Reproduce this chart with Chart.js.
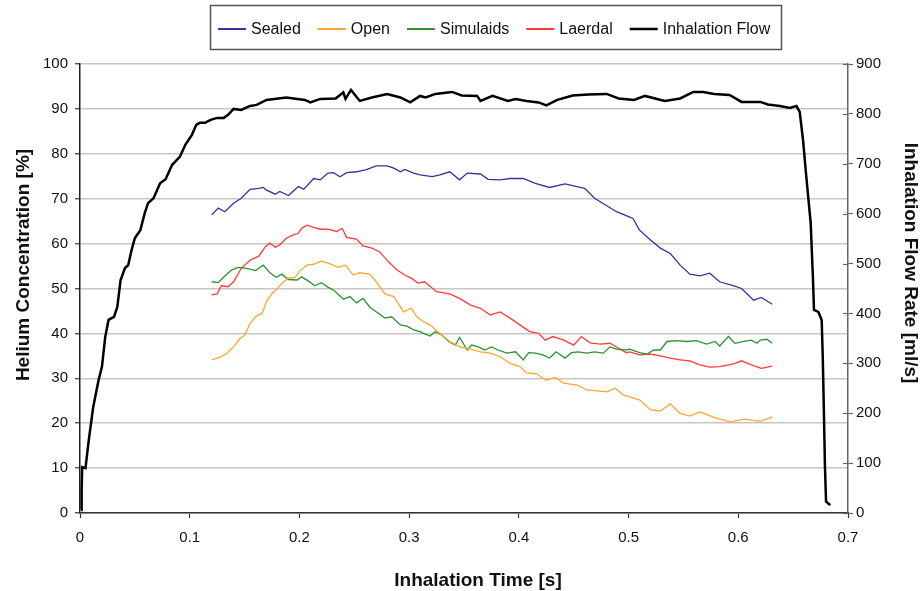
<!DOCTYPE html>
<html>
<head>
<meta charset="utf-8">
<title>Helium concentration and inhalation flow</title>
<script src="https://cdn.jsdelivr.net/npm/chart.js@4.4.1/dist/chart.umd.min.js"></script>
<style>
  html, body { margin: 0; padding: 0; background: #fff; }
  #chart { display: block; }
</style>
</head>
<body>
<canvas id="chart" width="922" height="591"></canvas>
<script>
// tick values for the three axes
const timeTicks = [0, 0.1, 0.2, 0.3, 0.4, 0.5, 0.6, 0.7];
const concentrationTicks = [0, 10, 20, 30, 40, 50, 60, 70, 80, 90, 100];
const flowTicks = [0, 100, 200, 300, 400, 500, 600, 700, 800, 900];

// [time s, helium %]
const sealed = [
  [0.120, 66.4], [0.126, 67.9], [0.132, 67.1], [0.140, 69.0], [0.147, 70.1], [0.155, 72.1],
  [0.163, 72.3], [0.167, 72.5], [0.170, 71.9], [0.178, 71.0], [0.182, 71.6], [0.190, 70.7],
  [0.194, 71.6], [0.199, 72.7], [0.204, 72.1], [0.213, 74.5], [0.219, 74.2], [0.226, 75.7],
  [0.231, 75.8], [0.237, 74.9], [0.243, 75.8], [0.252, 76.0], [0.261, 76.5], [0.270, 77.3],
  [0.280, 77.3], [0.286, 76.8], [0.292, 76.0], [0.296, 76.5], [0.304, 75.7], [0.310, 75.3],
  [0.321, 74.9], [0.328, 75.3], [0.337, 76.0], [0.346, 74.2], [0.353, 75.7], [0.365, 75.5],
  [0.372, 74.3], [0.383, 74.2], [0.392, 74.5], [0.404, 74.5], [0.415, 73.4], [0.428, 72.5],
  [0.442, 73.3], [0.453, 72.7], [0.460, 72.3], [0.469, 70.1], [0.479, 68.6], [0.489, 67.1],
  [0.500, 66.0], [0.504, 65.6], [0.510, 63.0], [0.520, 60.8], [0.529, 59.0], [0.538, 57.8],
  [0.547, 55.2], [0.556, 53.2], [0.565, 52.8], [0.574, 53.4], [0.583, 51.5], [0.596, 50.6],
  [0.603, 50.0], [0.614, 47.4], [0.621, 48.0], [0.631, 46.5],
];

const open = [
  [0.120, 34.1], [0.128, 34.7], [0.134, 35.6], [0.140, 37.0], [0.146, 38.9], [0.150, 39.6],
  [0.155, 42.2], [0.160, 43.7], [0.166, 44.5], [0.170, 47.1], [0.175, 48.9], [0.179, 49.7],
  [0.184, 51.2], [0.190, 52.3], [0.196, 52.5], [0.201, 54.1], [0.207, 55.2], [0.213, 55.4],
  [0.220, 56.1], [0.228, 55.5], [0.235, 54.7], [0.242, 55.2], [0.249, 53.0], [0.255, 53.5],
  [0.264, 53.2], [0.270, 51.5], [0.278, 48.8], [0.286, 48.2], [0.295, 44.8], [0.302, 45.6],
  [0.307, 43.7], [0.313, 42.6], [0.319, 41.9], [0.328, 40.0], [0.337, 38.2], [0.346, 37.0],
  [0.356, 36.5], [0.365, 35.9], [0.374, 35.6], [0.383, 34.8], [0.392, 33.3], [0.401, 32.6],
  [0.407, 31.2], [0.416, 31.0], [0.425, 29.6], [0.433, 30.2], [0.441, 28.9], [0.453, 28.5],
  [0.462, 27.4], [0.471, 27.2], [0.480, 27.0], [0.488, 27.8], [0.495, 26.3], [0.510, 25.2],
  [0.520, 23.0], [0.529, 22.7], [0.538, 24.3], [0.547, 22.2], [0.556, 21.6], [0.565, 22.5],
  [0.579, 21.2], [0.593, 20.3], [0.606, 20.9], [0.620, 20.4], [0.631, 21.4],
];

const simulaids = [
  [0.120, 51.5], [0.126, 51.3], [0.132, 52.8], [0.138, 54.1], [0.144, 54.7], [0.152, 54.5],
  [0.160, 54.0], [0.167, 55.2], [0.173, 53.5], [0.179, 52.5], [0.184, 53.2], [0.190, 52.0],
  [0.198, 51.9], [0.202, 52.6], [0.208, 51.7], [0.214, 50.6], [0.220, 51.3], [0.226, 50.3],
  [0.232, 49.5], [0.240, 47.6], [0.246, 48.2], [0.252, 46.8], [0.258, 47.8], [0.264, 45.9],
  [0.270, 44.8], [0.278, 43.4], [0.284, 43.7], [0.292, 41.9], [0.298, 41.6], [0.304, 40.8],
  [0.310, 40.4], [0.313, 40.0], [0.319, 39.4], [0.324, 40.4], [0.330, 39.6], [0.336, 38.2],
  [0.342, 37.4], [0.346, 39.1], [0.353, 36.3], [0.357, 37.4], [0.363, 37.0], [0.369, 36.3],
  [0.375, 37.0], [0.381, 36.3], [0.389, 35.6], [0.397, 35.9], [0.404, 34.1], [0.409, 35.7],
  [0.415, 35.6], [0.422, 35.2], [0.428, 34.5], [0.434, 35.9], [0.442, 34.5], [0.448, 35.7],
  [0.454, 35.9], [0.462, 35.6], [0.469, 35.9], [0.477, 35.6], [0.483, 37.0], [0.489, 36.5],
  [0.497, 36.3], [0.501, 36.5], [0.510, 35.7], [0.517, 35.4], [0.523, 36.3], [0.529, 36.3],
  [0.535, 38.2], [0.544, 38.4], [0.553, 38.2], [0.562, 38.4], [0.571, 37.6], [0.579, 38.2],
  [0.583, 37.2], [0.591, 39.3], [0.597, 37.8], [0.605, 38.2], [0.612, 38.5], [0.617, 37.8],
  [0.620, 38.5], [0.626, 38.7], [0.631, 37.8],
];

const laerdal = [
  [0.120, 48.6], [0.125, 48.8], [0.129, 50.6], [0.135, 50.4], [0.140, 51.5], [0.147, 54.5],
  [0.155, 56.3], [0.163, 57.2], [0.169, 59.3], [0.173, 60.1], [0.178, 59.2], [0.182, 59.7],
  [0.188, 61.2], [0.194, 61.9], [0.199, 62.3], [0.202, 63.4], [0.207, 64.1], [0.213, 63.6],
  [0.219, 63.2], [0.226, 63.2], [0.234, 62.7], [0.239, 63.4], [0.243, 61.4], [0.252, 61.0],
  [0.258, 59.5], [0.266, 59.0], [0.273, 58.2], [0.281, 56.0], [0.289, 54.1], [0.296, 53.0],
  [0.302, 52.3], [0.308, 51.2], [0.314, 51.5], [0.325, 49.3], [0.337, 48.8], [0.346, 47.8],
  [0.356, 46.3], [0.365, 45.6], [0.374, 44.1], [0.383, 44.8], [0.392, 43.4], [0.401, 41.9],
  [0.410, 40.4], [0.418, 40.0], [0.424, 38.5], [0.431, 39.3], [0.441, 38.5], [0.450, 37.4],
  [0.457, 39.3], [0.465, 37.9], [0.474, 37.6], [0.483, 37.8], [0.491, 36.7], [0.498, 35.7],
  [0.501, 35.9], [0.510, 35.2], [0.520, 35.4], [0.529, 35.0], [0.538, 34.5], [0.547, 34.1],
  [0.556, 33.9], [0.565, 33.0], [0.574, 32.5], [0.583, 32.6], [0.596, 33.2], [0.603, 33.9],
  [0.612, 33.0], [0.621, 32.2], [0.631, 32.7],
];

// [time s, flow ml/s]
const inhalationFlow = [
  [0.001, 6], [0.0015, 46], [0.002, 92], [0.005, 90], [0.008, 146], [0.012, 212], [0.017, 267],
  [0.020, 293], [0.023, 353], [0.026, 387], [0.031, 393], [0.034, 413], [0.037, 467], [0.041, 491],
  [0.044, 497], [0.047, 527], [0.050, 551], [0.055, 567], [0.059, 601], [0.062, 621], [0.067, 631],
  [0.073, 661], [0.078, 669], [0.084, 698], [0.091, 714], [0.096, 738], [0.102, 758], [0.106, 778],
  [0.109, 782], [0.114, 782], [0.119, 788], [0.125, 792], [0.131, 792], [0.135, 798], [0.140, 810],
  [0.147, 808], [0.155, 816], [0.161, 818], [0.170, 828], [0.188, 833], [0.205, 828], [0.210, 823],
  [0.219, 830], [0.233, 831], [0.240, 843], [0.242, 830], [0.247, 848], [0.255, 826], [0.266, 833],
  [0.280, 840], [0.292, 833], [0.301, 823], [0.310, 836], [0.315, 833], [0.324, 840], [0.339, 844],
  [0.348, 837], [0.362, 836], [0.365, 826], [0.376, 836], [0.390, 826], [0.397, 830], [0.407, 826],
  [0.418, 823], [0.425, 817], [0.435, 828], [0.449, 837], [0.463, 839], [0.480, 840], [0.491, 831],
  [0.505, 828], [0.515, 836], [0.533, 826], [0.547, 831], [0.559, 844], [0.568, 844], [0.578, 840],
  [0.592, 838], [0.603, 824], [0.620, 824], [0.627, 819], [0.638, 816], [0.647, 812], [0.653, 816],
  [0.656, 804], [0.659, 748], [0.662, 674], [0.666, 581], [0.668, 474], [0.669, 407], [0.673, 403],
  [0.676, 387], [0.677, 313], [0.678, 206], [0.679, 93], [0.680, 23], [0.682, 19], [0.684, 16],
];

const fontFamily = "'Liberation Sans', Arial, sans-serif";

const toPoints = (pairs) => pairs.map(([x, y]) => ({ x, y }));

function concentrationSeries(label, pairs, color) {
  return {
    label,
    data: toPoints(pairs),
    yAxisID: "y",
    borderColor: color,
    borderWidth: 1.3,
    pointRadius: 0,
    tension: 0,
    fill: false,
  };
}

// legend, custom axis titles and the inner ticks of the right axis
const chartDecorations = {
  id: "chartDecorations",
  afterDraw(chart) {
    const { ctx, chartArea } = chart;
    ctx.save();

    ctx.strokeStyle = "#555";
    ctx.lineWidth = 1.5;
    ctx.strokeRect(210.5, 5.5, 571, 44);

    ctx.font = `16px ${fontFamily}`;
    ctx.textBaseline = "middle";
    ctx.textAlign = "left";
    let x = 218;
    const y = 29;
    chart.data.datasets.forEach((ds) => {
      ctx.strokeStyle = ds.borderColor;
      ctx.lineWidth = ds.borderWidth > 2 ? 2.5 : 2;
      ctx.beginPath();
      ctx.moveTo(x, y);
      ctx.lineTo(x + 28, y);
      ctx.stroke();
      ctx.fillStyle = "#111";
      ctx.fillText(ds.label, x + 33, y + 1);
      x += 33 + ctx.measureText(ds.label).width + 17;
    });

    const right = chart.scales.y1;
    ctx.strokeStyle = "#666";
    ctx.lineWidth = 1.2;
    flowTicks.forEach((v) => {
      const py = Math.round(right.getPixelForValue(v)) + 0.5;
      ctx.beginPath();
      ctx.moveTo(chartArea.right - 5, py);
      ctx.lineTo(chartArea.right, py);
      ctx.stroke();
    });

    ctx.fillStyle = "#111";
    ctx.font = `bold 19px ${fontFamily}`;
    ctx.textAlign = "center";

    ctx.save();
    ctx.translate(24, 265);
    ctx.rotate(-Math.PI / 2);
    ctx.fillText("Helium Concentration [%]", 0, 0);
    ctx.restore();

    ctx.save();
    ctx.translate(910, 263);
    ctx.rotate(Math.PI / 2);
    ctx.fillText("Inhalation Flow Rate [ml/s]", 0, 0);
    ctx.restore();

    ctx.fillText("Inhalation Time [s]", 478, 581);
    ctx.restore();
  },
};

const tickFont = { family: fontFamily, size: 15 };

new Chart(document.getElementById("chart"), {
  type: "line",
  data: {
    datasets: [
      concentrationSeries("Sealed", sealed, "#33339a"),
      concentrationSeries("Open", open, "#ffa630"),
      concentrationSeries("Simulaids", simulaids, "#2e922e"),
      concentrationSeries("Laerdal", laerdal, "#ff3a3a"),
      {
        label: "Inhalation Flow",
        data: toPoints(inhalationFlow),
        yAxisID: "y1",
        borderColor: "#000000",
        borderWidth: 2.5,
        pointRadius: 0,
        tension: 0,
        fill: false,
      },
    ],
  },
  options: {
    responsive: false,
    animation: false,
    devicePixelRatio: 1,
    layout: { padding: { top: 64, left: 0, right: 0, bottom: 0 } },
    plugins: {
      legend: { display: false },
      tooltip: { enabled: false },
    },
    scales: {
      x: {
        type: "linear",
        min: 0,
        max: 0.7,
        afterBuildTicks(scale) {
          scale.ticks = timeTicks.map((value) => ({ value }));
        },
        afterFit(scale) {
          scale.height = 78;
        },
        ticks: {
          color: "#111",
          font: tickFont,
          padding: 11,
          callback: (value) => String(value),
        },
        grid: { drawOnChartArea: false, tickLength: 5, tickColor: "#333", tickWidth: 1.2 },
        border: { color: "#333", width: 1.5 },
      },
      y: {
        position: "left",
        min: 0,
        max: 100,
        afterBuildTicks(scale) {
          scale.ticks = concentrationTicks.map((value) => ({ value }));
        },
        afterFit(scale) {
          scale.width = 80;
        },
        ticks: { color: "#111", font: tickFont, padding: 7 },
        grid: { color: "#c6c6c6", lineWidth: 1.5, tickLength: 5, tickColor: "#333", tickWidth: 1.2 },
        border: { color: "#222", width: 1.5 },
      },
      y1: {
        position: "right",
        min: 0,
        max: 900,
        afterBuildTicks(scale) {
          scale.ticks = flowTicks.map((value) => ({ value }));
        },
        afterFit(scale) {
          scale.width = 74;
        },
        ticks: { color: "#111", font: tickFont, padding: 3 },
        grid: { drawOnChartArea: false, tickLength: 5, tickColor: "#666", tickWidth: 1.2 },
        border: { color: "#666", width: 1.5 },
      },
    },
  },
  plugins: [chartDecorations],
});
</script>
</body>
</html>
